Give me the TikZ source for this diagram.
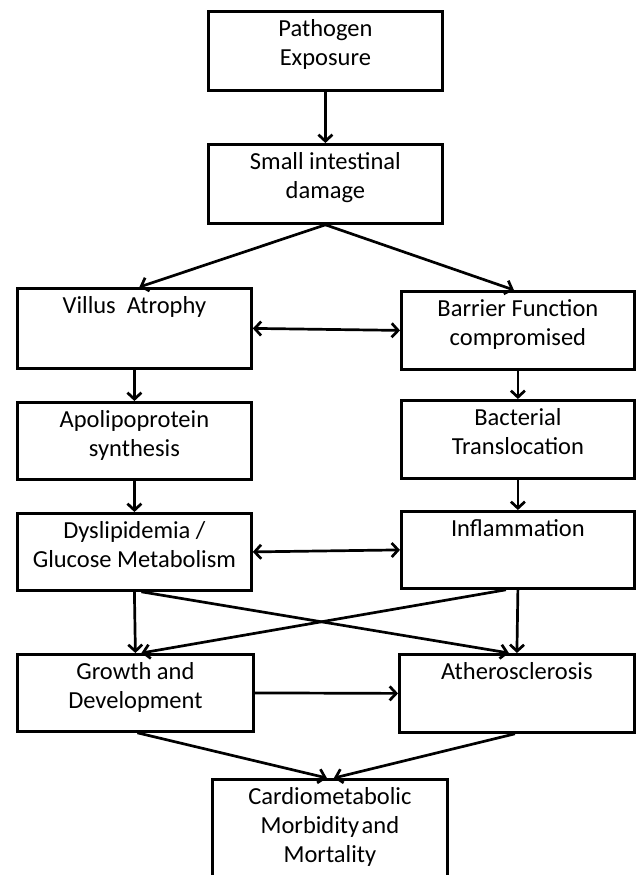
\documentclass[tikz,border=0pt]{standalone}
\usepackage{fontspec}
\setmainfont{Carlito}
\usetikzlibrary{arrows.meta}
\newcommand\bxt[3]{\parbox[t][#2][t]{#1}{\centering\vspace*{5pt}\strut #3}}
\begin{document}
\begin{tikzpicture}[x=1pt,y=-1pt,
  box/.style={draw, line width=2.8pt, inner sep=0pt, anchor=north west, text=black},
  arr/.style={line width=2.7pt, -{Straight Barb[length=6.5pt,width=14pt]}},
  dbl/.style={line width=2.7pt, {Straight Barb[length=6.5pt,width=14pt]}-{Straight Barb[length=6.5pt,width=14pt]}},
  font=\fontsize{24.5}{29}\selectfont]
\useasboundingbox (0,0) rectangle (636,875);
\clip (0,0) rectangle (636,875);
\node[box] (pe)  at (207,10)  {\bxt{234pt}{79pt}{Pathogen\\Exposure}};
\node[box] (sid) at (207,143) {\bxt{234pt}{79pt}{Small intestinal\\damage}};
\node[box] (va)  at (16,287)  {\bxt{234pt}{80pt}{Villus~~Atrophy}};
\node[box] (bf)  at (400,290) {\bxt{233pt}{78pt}{Barrier Function\\compromised}};
\node[box] (ap)  at (16,401)  {\bxt{234pt}{77pt}{Apolipoprotein\\synthesis}};
\node[box] (bt)  at (400,399) {\bxt{233pt}{78pt}{Bacterial\\Translocation}};
\node[box] (dg)  at (16,512)  {\bxt{234pt}{77pt}{Dyslipidemia /\\Glucose Metabolism}};
\node[box] (inf) at (400,510) {\bxt{233pt}{77pt}{Inflammation}};
\node[box] (gd)  at (16,653)  {\bxt{236pt}{77pt}{Growth and\\Development}};
\node[box] (ath) at (398,653) {\bxt{235pt}{78pt}{Atherosclerosis}};
\node[box] (cmm) at (211,778) {\bxt{235pt}{110pt}{Cardiometabolic\\Morbidity\hspace{0.1em}and\\Mortality}};
\draw[arr] (pe.south) -- (sid.north);
\draw[arr] (sid.south) -- ([xshift=5pt]va.north);
\draw[arr] (sid.south) -- ([xshift=-4pt]bf.north);
\draw[dbl] (va.east) -- (bf.west);
\draw[arr] (va.south) -- (ap.north);
\draw[arr] (bf.south) -- (bt.north);
\draw[arr] (ap.south) -- (dg.north);
\draw[arr] (bt.south) -- (inf.north);
\draw[dbl] (dg.east) -- (inf.west);
\draw[arr] (dg.south) -- (gd.north);
\draw[arr] ([xshift=7pt]dg.south) -- ([xshift=-8pt]ath.north);
\draw[arr] ([xshift=-12pt]inf.south) -- ([xshift=6pt]gd.north);
\draw[arr] (inf.south) -- (ath.north);
\draw[arr] (gd.east) -- (ath.west);
\draw[arr] ([xshift=2pt]gd.south) -- ([xshift=-3pt]cmm.north);
\draw[arr] ([xshift=-2pt]ath.south) -- ([xshift=4pt]cmm.north);
\end{tikzpicture}
\end{document}
